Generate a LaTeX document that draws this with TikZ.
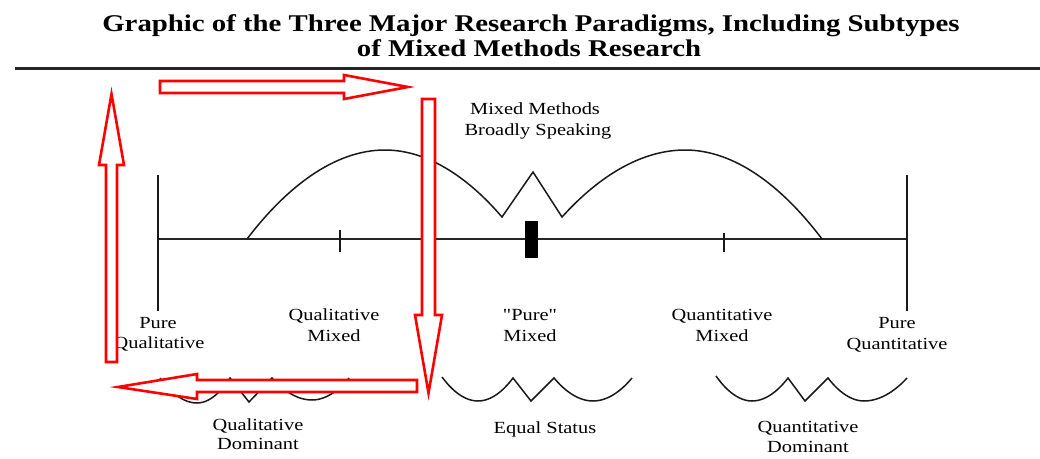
\documentclass[tikz,border=0pt]{standalone}
\usepackage{fontspec}
\setmainfont{Liberation Serif}[FakeStretch=1.2]
\newfontfamily\plainquotefont{Liberation Serif}[FakeStretch=1.2]
\begin{document}
\begin{tikzpicture}[x=1pt,y=-1pt,
  lbl/.style={anchor=base,inner sep=0pt,font=\fontsize{17}{20}\selectfont},
  ttl/.style={anchor=base,inner sep=0pt,font=\fontsize{24}{26}\selectfont\bfseries},
  redarrow/.style={draw=red,fill=white,line width=2.6pt,line join=miter},
  curve/.style={draw=black!90,line width=1.5pt},
  axisline/.style={draw=black!85,line width=2pt}]
\useasboundingbox (0,0) rectangle (1040,458);
% title
\node[ttl] (t1) at (531,31) {Graphic of the Three Major Research Paradigms, Including Subtypes};
\node[ttl] (t2) at (529,56) {of Mixed Methods Research};
\draw[line width=3pt,black!85] (15,68.5) -- (1040,68.5);
% axis and end lines
\coordinate (axl) at (158,239);
\coordinate (axr) at (907,239);
\draw[axisline] (axl) -- (axr);
\draw[curve] (158,175) -- (158,311);
\draw[curve] (907,175) -- (907,311);
\draw[line width=2.6pt,black!90] (340,230) -- (340,252);
\draw[line width=1.4pt,black!90] (724,233) -- (724,252);
\fill[black] (525,221) rectangle (538,258);
% big arches
\draw[curve] (247,239) parabola bend (385,150) (502,217) -- (533,172) -- (562,217)
  parabola bend (685,150) (822,239);
% lower shapes
\draw[curve] (160,378) parabola bend (197,403) (230,378) -- (249,402) -- (272,378)
  parabola bend (312,400) (349,378);
\draw[curve] (442,377) parabola bend (478,401) (513,378) -- (531,401) -- (554,378)
  parabola bend (593,401) (632,378);
\draw[curve] (716,376) parabola bend (752,401) (788,378) -- (805,401) -- (828,378)
  parabola bend (864,401) (907,378);
% labels
\node[lbl] (mm1) at (535,114) {Mixed Methods};
\node[lbl] (mm2) at (538,135) {Broadly Speaking};
\node[lbl] (pql1) at (158,328) {Pure};
\node[lbl] (pql2) at (159,348) {Qualitative};
\node[lbl] (qm1) at (334,320) {Qualitative};
\node[lbl] (qm2) at (334,341) {Mixed};
\node[lbl] (pm1) at (530,320) {{\plainquotefont "Pure"}};
\node[lbl] (pm2) at (530,341) {Mixed};
\node[lbl] (ntm1) at (722,320) {Quantitative};
\node[lbl] (ntm2) at (722,341) {Mixed};
\node[lbl] (pqn1) at (897,328) {Pure};
\node[lbl] (pqn2) at (897,349) {Quantitative};
\node[lbl] (qd1) at (258,430) {Qualitative};
\node[lbl] (qd2) at (258,449) {Dominant};
\node[lbl] (es) at (545,433) {Equal Status};
\node[lbl] (nd1) at (808,432) {Quantitative};
\node[lbl] (nd2) at (808,452) {Dominant};
% red block arrows
\draw[redarrow] (160,81) -- (344,81) -- (344,75) -- (408,87) -- (344,99) -- (344,93) -- (160,93) -- cycle;
\draw[redarrow] (106,362) -- (106,165) -- (99,165) -- (111.5,94) -- (124,165) -- (117,165) -- (117,362) -- cycle;
\draw[redarrow] (422,99) -- (435,99) -- (435,315) -- (442,315) -- (428.5,393) -- (415,315) -- (422,315) -- cycle;
\draw[redarrow] (417,380) -- (197,380) -- (197,374) -- (118,387) -- (197,399) -- (197,392) -- (417,392) -- cycle;
\end{tikzpicture}
\end{document}
